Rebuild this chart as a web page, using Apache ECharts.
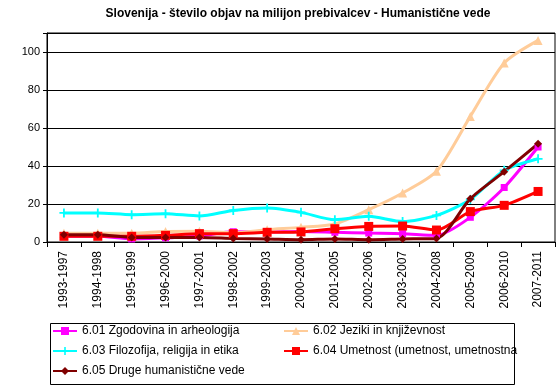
<!DOCTYPE html>
<html><head><meta charset="utf-8">
<script src="https://cdn.jsdelivr.net/npm/echarts@6/dist/echarts.min.js"></script>
<style>html,body{margin:0;padding:0;background:#fff}#c{width:560px;height:391px}</style>
</head><body><div id="c"></div>
<script>
const categories = ['1993-1997','1994-1998','1995-1999','1996-2000','1997-2001','1998-2002','1999-2003','2000-2004','2001-2005','2002-2006','2003-2007','2004-2008','2005-2009','2006-2010','2007-2011'];
const names = ['6.01 Zgodovina in arheologija','6.02 Jeziki in književnost','6.03 Filozofija, religija in etika','6.04 Umetnost (umetnost, umetnostna','6.05 Druge humanistične vede'];
const s601 = [3.0, 3.0, 1.6, 2.2, 3.2, 5.4, 5.2, 5.5, 5.1, 4.7, 4.4, 3.5, 13.0, 28.7, 50.0];
const s602 = [4.6, 4.6, 4.6, 5.5, 5.6, 4.8, 6.5, 7.7, 9.5, 17.0, 25.8, 37.2, 66.1, 94.2, 106.1];
const s603 = [15.3, 15.3, 14.4, 14.9, 13.7, 16.6, 17.9, 15.6, 11.7, 13.5, 10.8, 14.0, 22.4, 37.7, 43.8];
const s604 = [3.0, 3.0, 3.0, 3.5, 4.4, 4.4, 5.1, 5.3, 7.0, 8.2, 8.4, 6.3, 16.0, 19.3, 26.6];
const s605 = [3.8, 3.8, 2.4, 2.4, 2.4, 1.9, 1.6, 1.2, 1.6, 1.2, 1.6, 1.9, 22.8, 37.0, 51.7];
const yTicks = [0, 20, 40, 60, 80, 100];

const colors = ['#FF00FF', '#FFCC99', '#00FFFF', '#FF0000', '#800000'];
const plus = 'path://M4,0 L6,0 L6,4 L10,4 L10,6 L6,6 L6,10 L4,10 L4,6 L0,6 L0,4 L4,4 Z';
const symbols = ['rect', 'triangle', plus, 'rect', 'diamond'];
const sizes = [7, 9, 9, 9, 8];
const datas = [s601, s602, s603, s604, s605];

const chart = echarts.init(document.getElementById('c'));
const FONT = 'Liberation Sans, Arial, sans-serif';
const legendText = { fontSize: 12, color: '#000', fontFamily: FONT };
chart.setOption({
  animation: false,
  backgroundColor: '#fff',
  textStyle: { fontFamily: FONT },
  title: {
    text: 'Slovenija - število objav na milijon prebivalcev - Humanistične vede',
    left: 298, top: 8, textAlign: 'center', padding: 0,
    textStyle: { fontSize: 12, fontWeight: 'bold', color: '#000', fontFamily: FONT }
  },
  grid: { left: 47, right: 5, top: 33, bottom: 149, show: true, borderColor: '#000', borderWidth: 1 },
  xAxis: {
    type: 'category', data: categories, boundaryGap: true,
    axisLine: { lineStyle: { color: '#000', width: 1 } },
    axisTick: { show: true, alignWithLabel: false, length: 5, lineStyle: { color: '#000' } },
    axisLabel: { rotate: 90, fontSize: 12, color: '#000', margin: 9, interval: 0, fontFamily: FONT }
  },
  yAxis: {
    type: 'value', min: 0, max: 110, interval: 20,
    axisLine: { show: true, lineStyle: { color: '#000' } },
    axisTick: { show: true, length: 4, lineStyle: { color: '#000' } },
    axisLabel: { fontSize: 11, color: '#000', margin: 7, fontFamily: FONT,
      formatter: v => yTicks.indexOf(v) >= 0 ? String(v) : '' },
    splitLine: { lineStyle: { color: '#000', width: 1 } }
  },
  legend: [
    { data: [names[0], names[2], names[4]], orient: 'vertical', left: 52, top: 325, itemGap: 8, padding: 0,
      itemWidth: 24, itemHeight: 10, textStyle: legendText },
    { data: [names[1], names[3]], orient: 'vertical', left: 283, top: 325, itemGap: 8, padding: 0,
      itemWidth: 24, itemHeight: 10, textStyle: legendText }
  ],
  graphic: [
    { type: 'rect', left: 48, top: 321, shape: { width: 464, height: 61 }, style: { fill: 'none', stroke: '#000', lineWidth: 1 }, z: 100 }
  ],
  series: datas.map((d, i) => ({
    name: names[i], type: 'line', data: d,
    smooth: 0.25,
    symbol: symbols[i], symbolSize: sizes[i], showSymbol: true,
    itemStyle: { color: colors[i] },
    lineStyle: { color: colors[i], width: 3 }
  }))
});
</script></body></html>
